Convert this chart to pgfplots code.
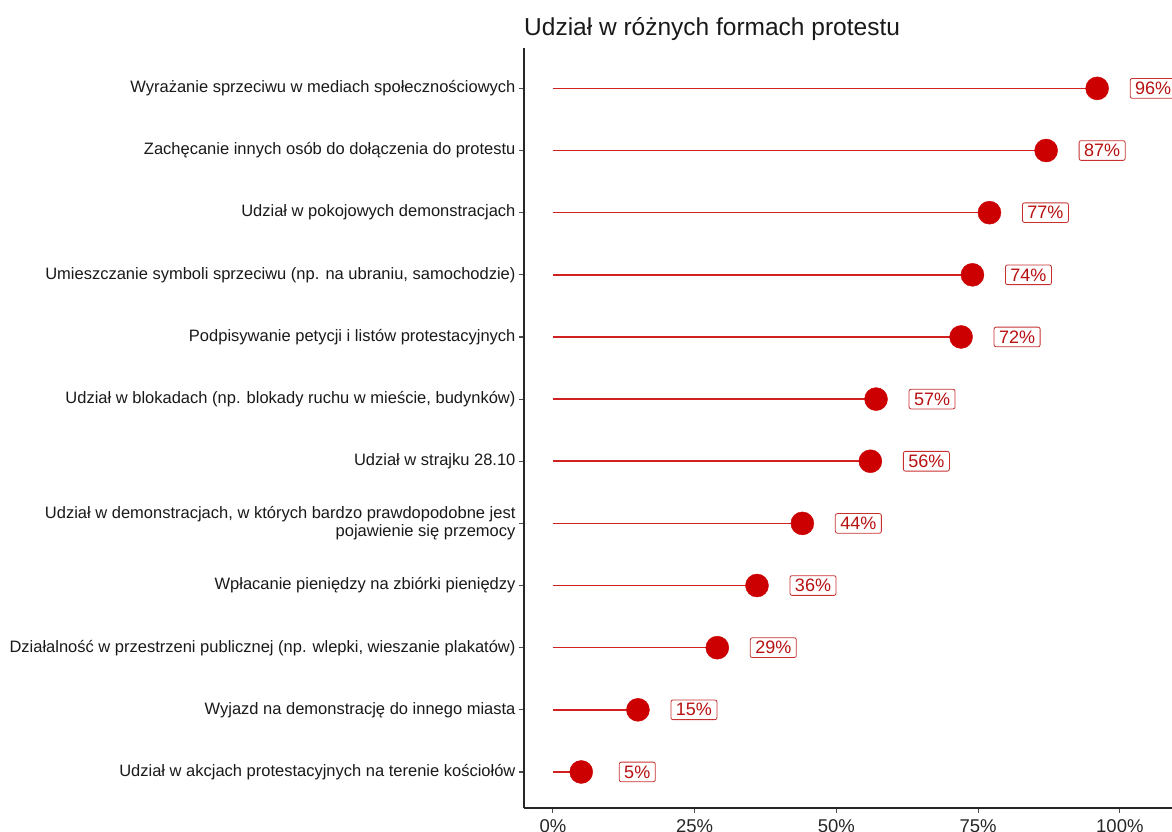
\documentclass[border=0pt]{standalone}
\usepackage{pgfplots}
\pgfplotsset{compat=1.18}
\usepackage{fontspec}
\setmainfont{Liberation Sans}
\definecolor{dotred}{HTML}{CC0000}
\definecolor{linered}{HTML}{D02020}
\definecolor{txtred}{HTML}{B81010}
\definecolor{boxred}{HTML}{C83030}
\begin{document}
\begin{tikzpicture}
\begin{axis}[
  name=ax,
  scale only axis,
  width=648pt, height=760pt,
  xmin=-5.1, xmax=109.2,
  ymin=0.42, ymax=12.65,
  axis lines*=left,
  axis line style={line width=1.3pt, black!85},
  tick align=outside,
  major tick length=5pt,
  major tick style={line width=1.1pt, black!70},
  /pgf/number format/assume math mode=true,
  xtick={0,25,50,75,100},
  xticklabels={0\%,25\%,50\%,75\%,100\%},
  xticklabel style={font=\fontsize{18.5}{20}\selectfont, text=black!85, yshift=-3pt},
  ytick={1,...,12},
  yticklabels={
    Udział w akcjach protestacyjnych na terenie kościołów,
    Wyjazd na demonstrację do innego miasta,
    {Działalność w przestrzeni publicznej (np. wlepki, wieszanie plakatów)},
    Wpłacanie pieniędzy na zbiórki pieniędzy,
    {Udział w demonstracjach, w których bardzo prawdopodobne jest\hspace{5pt}\\pojawienie się przemocy},
    Udział w strajku 28.10,
    {Udział w blokadach (np. blokady ruchu w mieście, budynków)},
    Podpisywanie petycji i listów protestacyjnych,
    {Umieszczanie symboli sprzeciwu (np. na ubraniu, samochodzie)},
    Udział w pokojowych demonstracjach,
    Zachęcanie innych osób do dołączenia do protestu,
    Wyrażanie sprzeciwu w mediach społecznościowych},
  yticklabel style={font=\fontsize{16.5}{18}\selectfont, text=black!90, align=right},
  title={Udział w różnych formach protestu},
  title style={at={(rel axis cs:0,1)}, anchor=base west, yshift=6pt, inner sep=0pt,
    font=\fontsize{24.5}{26}\selectfont, text=black!90},
  clip=false,
]
\addplot[xcomb, linered, line width=1.6pt] coordinates {
  (5,1) (15,2) (29,3) (36,4) (44,5) (56,6) (57,7) (72,8) (74,9) (77,10) (87,11) (96,12)};
\addplot[only marks, mark=*, mark size=11.5pt, mark options={fill=dotred, draw=dotred},
  point meta=explicit, nodes near coords={\pgfmathprintnumber{\pgfplotspointmeta}\%},
  every node near coord/.append style={anchor=center, xshift=56pt, yshift=0pt,
    draw=boxred, line width=0.8pt, rounded corners=2pt, fill=white, text=txtred,
    font=\fontsize{18}{20}\selectfont, inner xsep=5pt, inner ysep=3.5pt}]
  coordinates {
  (5,1) [5] (15,2) [15] (29,3) [29] (36,4) [36] (44,5) [44] (56,6) [56] (57,7) [57]
  (72,8) [72] (74,9) [74] (77,10) [77] (87,11) [87] (96,12) [96]};
\end{axis}
\pgfresetboundingbox
\path[use as bounding box] ([xshift=-524pt, yshift=-24pt]ax.south west) rectangle ([yshift=48pt]ax.north east);
\end{tikzpicture}
\end{document}
